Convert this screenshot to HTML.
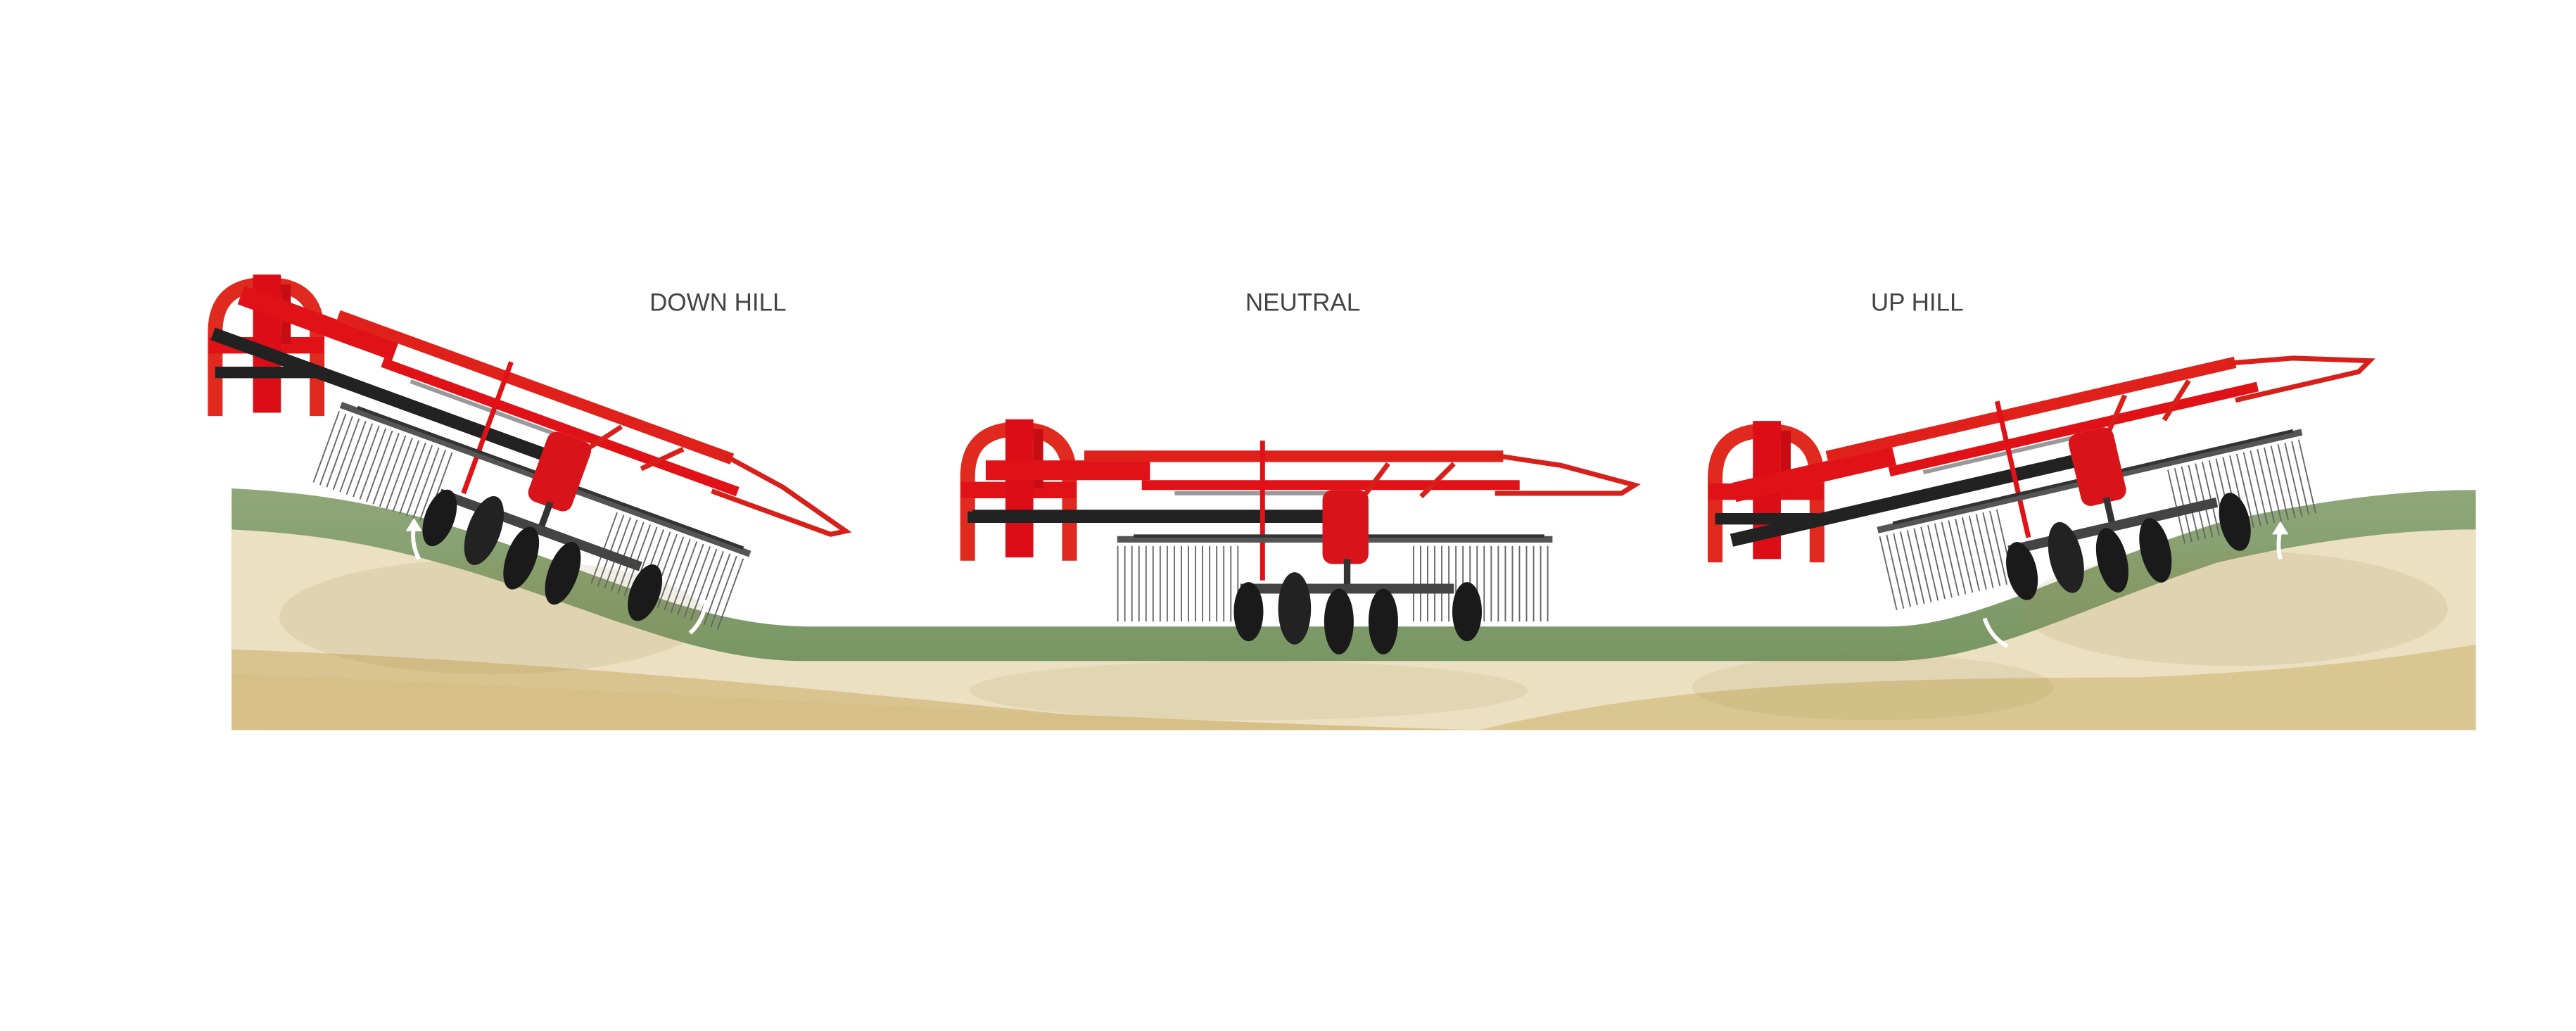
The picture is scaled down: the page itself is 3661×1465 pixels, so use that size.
<!DOCTYPE html>
<html><head><meta charset="utf-8"><style>
html,body{margin:0;padding:0;background:#fff;width:3661px;height:1465px;overflow:hidden}
svg{display:block}
text{font-family:"Liberation Sans",sans-serif;fill:#444;font-size:15px}
</style></head><body>
<svg width="3661" height="1465" viewBox="0 0 1568 627" preserveAspectRatio="none" xmlns="http://www.w3.org/2000/svg">
<defs>
<linearGradient id="grn" x1="0" y1="0" x2="0" y2="1">
<stop offset="0" stop-color="#8fa779"/><stop offset="1" stop-color="#6f8f5c"/></linearGradient>
<g id="aframe">
<path d="M4 86 V35 Q4 6 35 6 Q66 6 66 35 V86" fill="none" stroke="#e02a20" stroke-width="9"/>
<rect x="0" y="38" width="70" height="10" fill="#e01218"/>
<rect x="27" y="0" width="17" height="84" fill="#dc0d16"/>
<rect x="44" y="6" width="6" height="36" fill="#c80c14"/>
<rect x="4" y="56" width="62" height="7" fill="#222"/>
</g>
<g id="body">
<rect x="-55" y="-10" width="100" height="12" fill="#e01218"/>
<rect x="40" y="2" width="230" height="6" fill="#e01218"/>
<rect x="-63" y="20" width="220" height="8" fill="#222"/>
<rect x="5" y="-16" width="255" height="7" fill="#e0201a"/>
<polyline points="255,-13 295,-7 340,5 332,10 255,10" fill="none" stroke="#d8201a" stroke-width="3"/>
<line x1="60" y1="10" x2="160" y2="10" stroke="#999" stroke-width="2.5"/>
<line x1="190" y1="-8" x2="175" y2="12" stroke="#d8201a" stroke-width="3"/>
<line x1="230" y1="-8" x2="210" y2="12" stroke="#d8201a" stroke-width="3"/>
<rect x="112" y="-22" width="3" height="85" fill="#e01218"/>
<line x1="25" y1="38" x2="290" y2="38" stroke="#555" stroke-width="4"/>
<line x1="35" y1="36" x2="285" y2="36" stroke="#333" stroke-width="2"/>
<line x1="25" y1="65" x2="100" y2="65" stroke="#666" stroke-width="46" stroke-dasharray="0.8 3.5"/>
<line x1="205" y1="65" x2="290" y2="65" stroke="#666" stroke-width="46" stroke-dasharray="0.8 3.5"/>
<rect x="150" y="8" width="28" height="45" rx="6" fill="#d8141a"/>
<line x1="165" y1="50" x2="165" y2="70" stroke="#333" stroke-width="4"/>
<rect x="100" y="65" width="130" height="6" fill="#444"/>
<ellipse cx="105" cy="82" rx="9" ry="18" fill="#1a1a1a"/>
<ellipse cx="133" cy="80" rx="10" ry="22" fill="#222"/>
<ellipse cx="160" cy="88" rx="9" ry="20" fill="#1a1a1a"/>
<ellipse cx="187" cy="88" rx="9" ry="20" fill="#1a1a1a"/>
<ellipse cx="238" cy="82" rx="9" ry="18" fill="#1a1a1a"/>
</g>
</defs>
<path d="M141 297 C200 300 240 308 300 328 C380 355 430 380 490 381 L1150 381 C1200 381 1250 350 1350 318 C1420 302 1470 298 1507 298 L1507 444 L141 444 Z" fill="url(#grn)"/>
<path d="M141 322 C200 325 240 333 300 352 C380 378 430 402 490 402 L1150 402 C1210 402 1260 372 1350 342 C1420 326 1470 322 1507 322 L1507 444 L141 444 Z" fill="#ebe0c2"/>
<path d="M141 395 C300 400 500 418 700 440 L141 444 Z" fill="#d9c48f"/>
<path d="M141 410 C400 420 600 435 900 444 L141 444 Z" fill="#d6c088"/>
<path d="M900 444 C1000 420 1100 412 1300 412 C1400 408 1460 400 1507 392 L1507 444 Z" fill="#dac690"/>
<g fill="#a08a50">
<ellipse cx="300" cy="375" rx="130" ry="35" opacity="0.15"/>
<ellipse cx="760" cy="420" rx="170" ry="18" opacity="0.12"/>
<ellipse cx="1140" cy="418" rx="110" ry="20" opacity="0.12"/>
<ellipse cx="1360" cy="370" rx="130" ry="35" opacity="0.15"/>
</g>
<text x="437" y="189" text-anchor="middle">DOWN HILL</text>
<text x="793" y="189" text-anchor="middle">NEUTRAL</text>
<text x="1167" y="189" text-anchor="middle">UP HILL</text>
<use href="#aframe" x="127" y="167"/>
<g transform="translate(197 202) rotate(20)"><use href="#body"/></g>
<use href="#aframe" x="585" y="255"/>
<g transform="translate(655 290)"><use href="#body"/></g>
<use href="#aframe" x="1040" y="256"/>
<g transform="translate(1110 291) rotate(-13)"><use href="#body"/></g>
<path d="M255 340 Q250 330 252 320" fill="none" stroke="#fff" stroke-width="2.5"/>
<path d="M247 323 L252 315 L257 323 Z" fill="#fff"/>
<path d="M430 365 Q428 378 420 385" fill="none" stroke="#fff" stroke-width="2.5"/>
<path d="M1208 376 Q1212 388 1222 393" fill="none" stroke="#fff" stroke-width="2.5"/>
<path d="M1388 340 Q1386 332 1388 322" fill="none" stroke="#fff" stroke-width="2.5"/>
<path d="M1383 325 L1388 317 L1393 325 Z" fill="#fff"/>
</svg>
</body></html>
